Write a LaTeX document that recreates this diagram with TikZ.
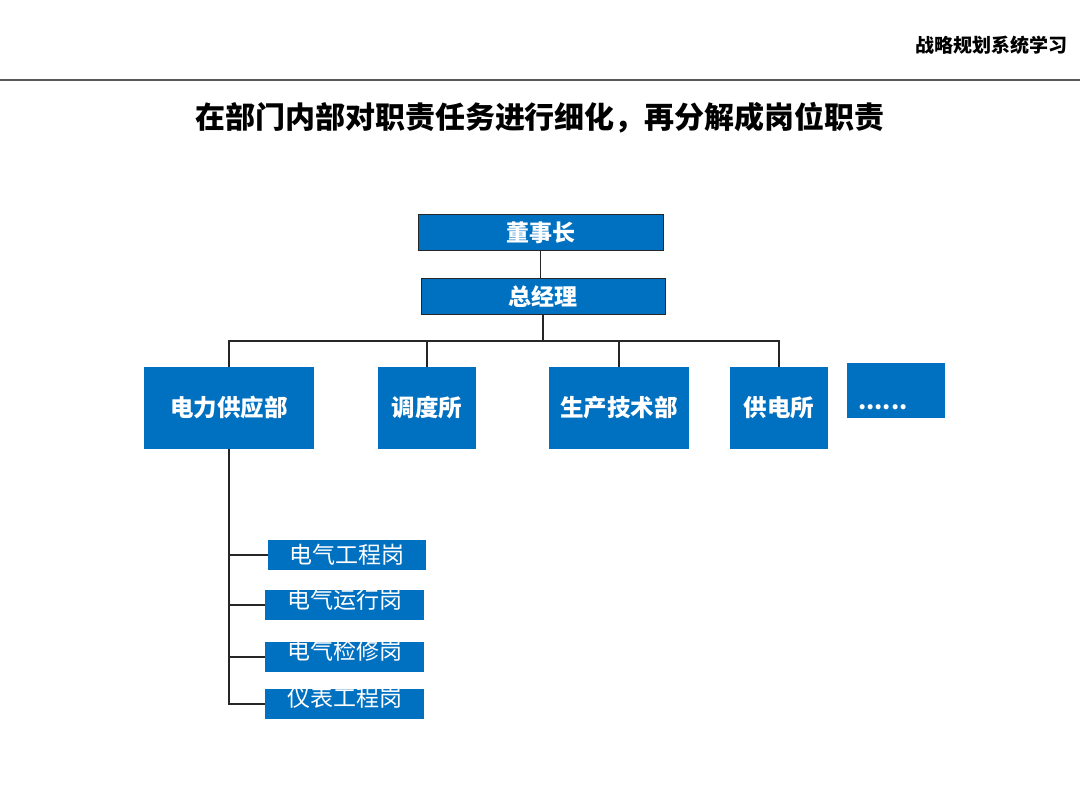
\documentclass[tikz,border=0pt]{standalone}
\usepackage{fontspec}
\usepackage{xcolor}
\newfontfamily\cjk{Noto Sans CJK SC}
\definecolor{orgblue}{RGB}{0,112,192}

\begin{document}
\begin{tikzpicture}[x=1pt, y=-1pt,
    topbox/.style={draw=black!85, line width=1pt, fill=orgblue, text=white,
                   font=\cjk\bfseries\fontsize{23}{23}\selectfont, inner sep=0pt,
                   minimum width=245pt, minimum height=36pt},
    deptbox/.style={fill=orgblue, text=white, font=\cjk\bfseries\fontsize{23.5}{23.5}\selectfont,
                    inner sep=0pt, minimum height=82pt},
    postbox/.style={fill=orgblue, text=white, font=\cjk\fontsize{23}{23}\selectfont,
                    inner sep=0pt, minimum width=159pt, minimum height=30pt},
    link/.style={draw=black!85, line width=1.1pt}
  ]
    \useasboundingbox (0,0) rectangle (1080,810);
    % header
    \node[anchor=east, font=\cjk\bfseries\fontsize{19}{19}\selectfont] (head) at (1071,45) {战略规划系统学习};
    \draw[black!65, line width=2pt] (0,80) -- (1080,80);
    \node[font=\cjk\bfseries\fontsize{30}{30}\selectfont] (title) at (540,118)
      {在部门内部对职责任务进行细化，再分解成岗位职责};
    % top of the tree
    \node[topbox] (dsz) at (540.5,233) {董事长};
    \node[topbox, minimum width=244pt] (zjl) at (543,297) {总经理};
    % departments
    \node[deptbox, minimum width=170pt] (d1) at (229,408) {电力供应部};
    \node[deptbox, minimum width=98pt] (d2) at (427,408) {调度所};
    \node[deptbox, minimum width=140pt] (d3) at (619,408) {生产技术部};
    \node[deptbox, minimum width=98pt] (d4) at (779,408) {供电所};
    \node[deptbox, minimum width=98pt, minimum height=55pt, text width=76pt, align=left,
          text height=47pt, text depth=8pt] (d5) at (896,390.5) {......};
    % posts
    \node[postbox, minimum width=158pt] (p1) at (347,555) {电气工程岗};
    \node[postbox, text height=18pt, text depth=12pt] (p2) at (344.5,605) {电气运行岗};
    \node[postbox, text height=17pt, text depth=13pt] (p3) at (344.5,657) {电气检修岗};
    \node[postbox, text height=17pt, text depth=13pt] (p4) at (344.5,704) {仪表工程岗};
    % connectors
    \coordinate (bus) at (543,341);
    \coordinate (spine) at (229,705);
    \draw[link] (dsz.south) -- (dsz.south |- zjl.north);
    \draw[link] (zjl.south) -- (bus);
    \foreach \d in {d1,d2,d3,d4}
      \draw[link] (bus) -| (\d.north);
    \draw[link] (d1.south) -- (spine);
    \foreach \p in {p1,p2,p3,p4}
      \draw[link] (\p.west) -- (\p.west -| d1.south);
\end{tikzpicture}
\end{document}
